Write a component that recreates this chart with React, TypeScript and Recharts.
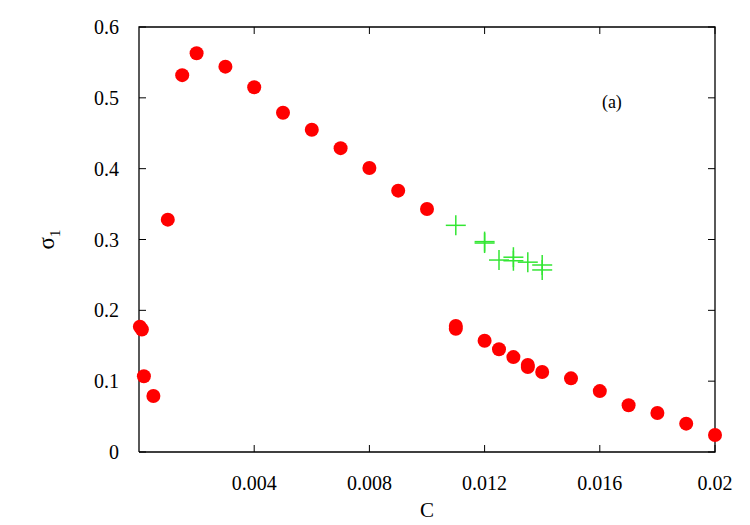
import React from 'react'
import { ScatterChart, Scatter, XAxis, YAxis, ReferenceDot } from 'recharts'

const xTicks = [0.004, 0.008, 0.012, 0.016, 0.02]
const yTicks = [0, 0.1, 0.2, 0.3, 0.4, 0.5, 0.6]

// red dots
const redC = [
    0.00003, 0.0001, 0.00017, 0.0005, 0.001, 0.0015, 0.002, 0.003, 0.004, 0.005, 0.006, 0.007, 0.008, 0.009, 0.01,
    0.011, 0.011, 0.012, 0.0125, 0.013, 0.0135, 0.0135, 0.014, 0.015, 0.016, 0.017, 0.018, 0.019, 0.02,
]
const redSigma = [
    0.177, 0.173, 0.107, 0.079, 0.328, 0.532, 0.563, 0.544, 0.515, 0.479, 0.455, 0.429, 0.401, 0.369, 0.343,
    0.178, 0.174, 0.157, 0.145, 0.134, 0.123, 0.12, 0.113, 0.104, 0.086, 0.066, 0.055, 0.04, 0.024,
]

// green crosses
const greenC = [0.011, 0.012, 0.012, 0.0125, 0.013, 0.013, 0.0135, 0.014, 0.014]
const greenSigma = [0.32, 0.297, 0.295, 0.271, 0.275, 0.27, 0.268, 0.264, 0.257]

const X_MAX = 0.02
const Y_MAX = 0.6

// panel tag "(a)" position, in data units
const TAG_C = 0.01642
const TAG_S = 0.494

const redData = redC.map((c, i) => ({ c, s: redSigma[i] }))
const greenData = greenC.map((c, i) => ({ c, s: greenSigma[i] }))

// plot border, drawn as a closed line through the corners
const frameData = [
    { c: 0, s: 0 },
    { c: X_MAX, s: 0 },
    { c: X_MAX, s: Y_MAX },
    { c: 0, s: Y_MAX },
    { c: 0, s: 0 },
]
// inward tick marks on all four sides
const bottomTicks = xTicks.map((c) => ({ c, s: 0 }))
const topTicks = xTicks.map((c) => ({ c, s: Y_MAX }))
const leftTicks = yTicks.map((s) => ({ c: 0, s }))
const rightTicks = yTicks.map((s) => ({ c: X_MAX, s }))

const FONT = "'Liberation Serif', 'DejaVu Serif', serif"
const tickStyle = { fill: '#000', fontSize: 20, fontFamily: FONT }
const TL = 7

const Dot = (props: any) => <circle cx={props.cx} cy={props.cy} r={7} fill="#ff0000" />

const Cross = (props: any) => {
    const { cx, cy } = props
    return (
        <g stroke="#33e633" strokeWidth={1.5}>
            <line x1={cx - 10} y1={cy} x2={cx + 10} y2={cy} />
            <line x1={cx} y1={cy - 10} x2={cx} y2={cy + 10} />
        </g>
    )
}

const tickMark = (dx: number, dy: number) => (props: any) => (
    <line x1={props.cx} y1={props.cy} x2={props.cx + dx} y2={props.cy + dy} stroke="#000" strokeWidth={1} />
)

const Empty = () => <g />

const XLabel = (props: any) => {
    const vb = props.viewBox
    return (
        <text x={vb.x + vb.width / 2} y={vb.y + 65} fontSize={21} fontFamily={FONT} textAnchor="middle" fill="#000">
            C
        </text>
    )
}

const YLabel = (props: any) => {
    const vb = props.viewBox
    const cy = vb.y + vb.height / 2
    return (
        <text transform={`translate(${vb.x - 25},${cy}) rotate(-90)`} fontSize={23} fontFamily={FONT} textAnchor="middle" fill="#000">
            σ<tspan fontSize={15} dy={6}>1</tspan>
        </text>
    )
}

export default function App() {
    return (
        <div style={{ position: 'absolute', left: 0, top: 0, width: 750, height: 525, fontFamily: FONT }}>
            <ScatterChart width={750} height={525} margin={{ top: 27, right: 35, bottom: 23, left: 79 }}>
                <XAxis
                    dataKey="c"
                    type="number"
                    domain={[0, X_MAX]}
                    ticks={xTicks}
                    height={50}
                    axisLine={false}
                    tickLine={false}
                    tickMargin={18}
                    tick={tickStyle}
                    label={<XLabel />}
                />
                <YAxis
                    dataKey="s"
                    type="number"
                    domain={[0, Y_MAX]}
                    ticks={yTicks}
                    width={60}
                    axisLine={false}
                    tickLine={false}
                    tickMargin={14}
                    tick={tickStyle}
                    label={<YLabel />}
                />
                <ReferenceDot
                    x={TAG_C}
                    y={TAG_S}
                    r={0}
                    fill="none"
                    stroke="none"
                    label={{ value: '(a)', position: 'center', fontSize: 18, fill: '#000', fontFamily: FONT }}
                />
                <Scatter
                    data={frameData}
                    line={{ stroke: '#000', strokeWidth: 1.3 }}
                    lineType="joint"
                    shape={Empty}
                    isAnimationActive={false}
                />
                <Scatter data={bottomTicks} shape={tickMark(0, -TL)} isAnimationActive={false} />
                <Scatter data={topTicks} shape={tickMark(0, TL)} isAnimationActive={false} />
                <Scatter data={leftTicks} shape={tickMark(TL, 0)} isAnimationActive={false} />
                <Scatter data={rightTicks} shape={tickMark(-TL, 0)} isAnimationActive={false} />
                <Scatter data={redData} shape={Dot} isAnimationActive={false} />
                <Scatter data={greenData} shape={Cross} isAnimationActive={false} />
            </ScatterChart>
        </div>
    )
}
